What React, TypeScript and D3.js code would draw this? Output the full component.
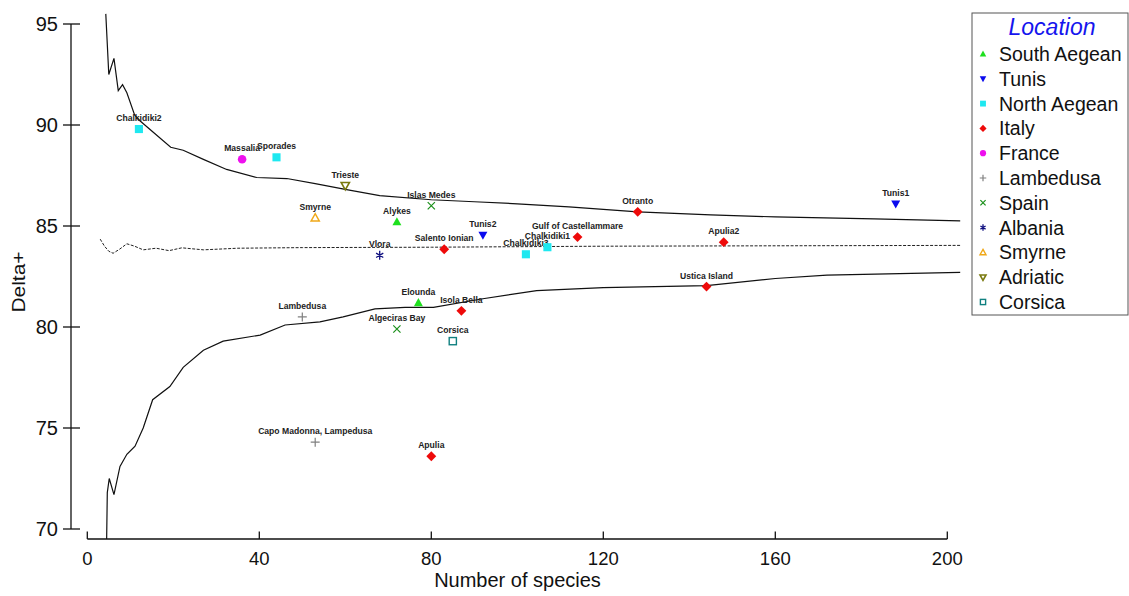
import React from 'react';
import * as d3 from 'd3';

const locations = ['South Aegean', 'Tunis', 'North Aegean', 'Italy', 'France', 'Lambedusa', 'Spain', 'Albania', 'Smyrne', 'Adriatic', 'Corsica'];
const locationColors = ['#1ee01e', '#0a0aee', '#1ee8f0', '#ee0a0a', '#ee10ee', '#808080', '#1a8f1a', '#101080', '#f0a818', '#7a7a10', '#108080'];
const locationShapes = ['triUp', 'triDown', 'square', 'diamond', 'circle', 'plus', 'cross', 'star', 'triUpOpen', 'triDownOpen', 'squareOpen'];

const siteNames = ['Chalkidiki2', 'Massalia', 'Sporades', 'Trieste', 'Smyrne', 'Alykes', 'Islas Medes', 'Tunis2', 'Vlora', 'Salento Ionian', 'Chalkidiki3', 'Chalkidiki1', 'Gulf of Castellammare', 'Otranto', 'Apulia2', 'Tunis1', 'Ustica Island', 'Elounda', 'Isola Bella', 'Lambedusa', 'Algeciras Bay', 'Corsica', 'Capo Madonna, Lampedusa', 'Apulia'];
const siteLocations = ['North Aegean', 'France', 'North Aegean', 'Adriatic', 'Smyrne', 'South Aegean', 'Spain', 'Tunis', 'Albania', 'Italy', 'North Aegean', 'North Aegean', 'Italy', 'Italy', 'Italy', 'Tunis', 'Italy', 'South Aegean', 'Italy', 'Lambedusa', 'Spain', 'Corsica', 'Lambedusa', 'Italy'];
const siteSpecies = [12, 36, 44, 60, 53, 72, 80, 92, 68, 83, 102, 107, 114, 128, 148, 188, 144, 77, 87, 50, 72, 85, 53, 80];
const siteDelta = [89.8, 88.3, 88.4, 87.0, 85.4, 85.2, 86.0, 84.55, 83.55, 83.85, 83.6, 83.95, 84.45, 85.7, 84.2, 86.1, 82.0, 81.2, 80.8, 80.5, 79.9, 79.3, 74.3, 73.6];

const upperX = [4.3, 5.0, 6.2, 7.2, 8.2, 9.2, 11, 12.3, 15, 19.4, 22.3, 27, 32.4, 39.4, 46.4, 53, 60.3, 68, 80, 90, 100, 112, 128, 145, 160, 183, 203];
const upperY = [95.5, 92.5, 93.3, 91.7, 92.0, 91.6, 90.5, 90.2, 89.7, 88.9, 88.75, 88.3, 87.8, 87.4, 87.35, 87.1, 86.8, 86.5, 86.3, 86.2, 86.1, 85.95, 85.7, 85.55, 85.45, 85.35, 85.25];

const meanX = [3, 4, 5, 6, 7.5, 9.2, 11, 13, 16, 19, 22, 27, 35, 50, 80, 120, 160, 203];
const meanY = [84.35, 84.0, 83.75, 83.65, 83.85, 84.12, 84.0, 83.82, 83.9, 83.78, 83.92, 83.82, 83.9, 83.93, 83.95, 84.0, 84.02, 84.04];

const lowerX = [4.5, 4.65, 5.1, 6.2, 7.6, 9.2, 11.1, 13, 15.2, 19.2, 22.3, 27, 31.6, 40.2, 46, 54.1, 59.5, 66.9, 73.9, 80.5, 92, 104.5, 120, 144, 160, 172, 203];
const lowerY = [69.5, 71.8, 72.5, 71.7, 73.1, 73.7, 74.1, 75.0, 76.4, 77.05, 78.0, 78.85, 79.3, 79.6, 80.1, 80.25, 80.5, 80.9, 80.97, 80.97, 81.4, 81.8, 81.95, 82.05, 82.4, 82.57, 82.7];

const xTicks = [0, 40, 80, 120, 160, 200];
const yTicks = [70, 75, 80, 85, 90, 95];

const FONT = '"Liberation Sans", Arial, sans-serif';

function Marker({ shape, color, cx, cy, s }: { shape: string; color: string; cx: number; cy: number; s: number }) {
  const h = s / 2;
  switch (shape) {
    case 'triUp':
      return <path d={`M${cx},${cy - h * 1.05}L${cx + h},${cy + h * 0.75}L${cx - h},${cy + h * 0.75}Z`} fill={color} />;
    case 'triDown':
      return <path d={`M${cx},${cy + h * 1.05}L${cx + h},${cy - h * 0.75}L${cx - h},${cy - h * 0.75}Z`} fill={color} />;
    case 'triUpOpen':
      return <path d={`M${cx},${cy - h * 0.95}L${cx + h * 0.92},${cy + h * 0.7}L${cx - h * 0.92},${cy + h * 0.7}Z`} fill="none" stroke={color} strokeWidth={1.4} />;
    case 'triDownOpen':
      return <path d={`M${cx},${cy + h * 0.95}L${cx + h * 0.92},${cy - h * 0.7}L${cx - h * 0.92},${cy - h * 0.7}Z`} fill="none" stroke={color} strokeWidth={1.6} />;
    case 'square':
      return <rect x={cx - h * 0.9} y={cy - h * 0.9} width={s * 0.9} height={s * 0.9} fill={color} />;
    case 'squareOpen':
      return <rect x={cx - h * 0.8} y={cy - h * 0.8} width={s * 0.8} height={s * 0.8} fill="none" stroke={color} strokeWidth={1.4} />;
    case 'diamond':
      return <path d={`M${cx},${cy - h * 1.1}L${cx + h * 1.1},${cy}L${cx},${cy + h * 1.1}L${cx - h * 1.1},${cy}Z`} fill={color} />;
    case 'circle':
      return <circle cx={cx} cy={cy} r={h * 0.95} fill={color} />;
    case 'plus':
      return <path d={`M${cx - h},${cy}H${cx + h}M${cx},${cy - h}V${cy + h}`} stroke={color} strokeWidth={1.2} fill="none" />;
    case 'cross': {
      const k = h * 0.8;
      return <path d={`M${cx - k},${cy - k}L${cx + k},${cy + k}M${cx - k},${cy + k}L${cx + k},${cy - k}`} stroke={color} strokeWidth={1.2} fill="none" />;
    }
    case 'star': {
      const k = h * 0.8;
      return <path d={`M${cx - k},${cy - k * 0.6}L${cx + k},${cy + k * 0.6}M${cx - k},${cy + k * 0.6}L${cx + k},${cy - k * 0.6}M${cx},${cy - h}V${cy + h}`} stroke={color} strokeWidth={1.3} fill="none" />;
    }
    default:
      return null;
  }
}

export default function App() {
  const x = d3.scaleLinear().domain([0, 200]).range([87.3, 947.3]);
  const y = d3.scaleLinear().domain([70, 95]).range([529, 24]);
  const line = d3.line<[number, number]>().x(d => x(d[0])).y(d => y(d[1]));
  const upper = line(upperX.map((v, i) => [v, upperY[i]] as [number, number]));
  const mean = line(meanX.map((v, i) => [v, meanY[i]] as [number, number]));
  const lower = line(lowerX.map((v, i) => [v, lowerY[i]] as [number, number]));
  const axisY = 539;
  const axisX = 71;

  const legendX = 972;
  const legendTop = 13;
  const legendRowH = 24.8;

  return (
    <svg width={1129} height={596} style={{ position: 'absolute', left: 0, top: 0, background: '#fff' }} fontFamily={FONT}>
      <rect x={0} y={0} width={1129} height={596} fill="#fff" />
      <defs>
        <clipPath id="plotclip">
          <rect x={x(0)} y={12} width={x(200) - x(0) + 20} height={axisY - 12} />
        </clipPath>
      </defs>
      {/* funnel lines */}
      <g clipPath="url(#plotclip)">
        <path d={upper || ''} fill="none" stroke="#111" strokeWidth={1.2} />
        <path d={lower || ''} fill="none" stroke="#111" strokeWidth={1.2} />
        <path d={mean || ''} fill="none" stroke="#222" strokeWidth={1} strokeDasharray="3,1.5" />
      </g>

      {/* y axis */}
      <line x1={axisX} x2={axisX} y1={y(95)} y2={y(70)} stroke="#111" strokeWidth={1.3} />
      {yTicks.map(t => (
        <g key={t}>
          <line x1={63} x2={80} y1={y(t)} y2={y(t)} stroke="#111" strokeWidth={1.3} />
          <text x={58} y={y(t)} dy="0.36em" textAnchor="end" fontSize={20} fill="#111">{t}</text>
        </g>
      ))}
      <text transform={`translate(25,${282}) rotate(-90)`} textAnchor="middle" fontSize={19} textLength={61} lengthAdjust="spacingAndGlyphs" fill="#111">Delta+</text>

      {/* x axis */}
      <line x1={x(0)} x2={x(200)} y1={axisY} y2={axisY} stroke="#111" strokeWidth={1.3} />
      {xTicks.map(t => (
        <g key={t}>
          <line x1={x(t)} x2={x(t)} y1={531.5} y2={axisY} stroke="#111" strokeWidth={1.3} />
          <text x={x(t)} y={565} textAnchor="middle" fontSize={18.5} fill="#111">{t}</text>
        </g>
      ))}
      <text x={517.5} y={587} textAnchor="middle" fontSize={20} fill="#111">Number of species</text>

      {/* points */}
      {siteNames.map((name, i) => {
        const li = locations.indexOf(siteLocations[i]);
        const cx = x(siteSpecies[i]);
        const cy = y(siteDelta[i]);
        return (
          <g key={name + i}>
            <Marker shape={locationShapes[li]} color={locationColors[li]} cx={cx} cy={cy} s={9} />
            <text x={cx} y={cy - 8} textAnchor="middle" fontSize={8.6} fontWeight="bold" fill="#222">{name}</text>
          </g>
        );
      })}

      {/* legend */}
      <rect x={legendX} y={legendTop} width={156} height={302} fill="#fff" stroke="#555" strokeWidth={1} />
      <text x={legendX + 80} y={35} textAnchor="middle" fontSize={23} fontStyle="italic" fill="#1515ee">Location</text>
      {locations.map((loc, i) => {
        const cy = 54 + i * legendRowH;
        return (
          <g key={loc}>
            <Marker shape={locationShapes[i]} color={locationColors[i]} cx={983} cy={cy} s={6.5} />
            <text x={999} y={cy} dy="0.36em" fontSize={19.5} fill="#111">{loc}</text>
          </g>
        );
      })}
    </svg>
  );
}
